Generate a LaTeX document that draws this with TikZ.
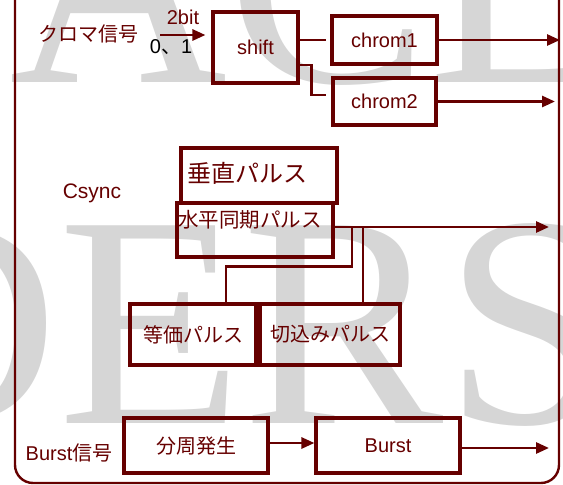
\documentclass[tikz,border=0pt]{standalone}
\usepackage{fontspec}
\setmainfont{Liberation Sans}
\newfontfamily\jp{Noto Sans CJK JP}
\newfontfamily\wm{Liberation Serif}
\usetikzlibrary{arrows.meta,calc}
\definecolor{dr}{RGB}{102,0,0}
\definecolor{wmgray}{RGB}{214,214,214}
\begin{document}
\begin{tikzpicture}[x=1pt,y=-1pt,
 box/.style={draw=dr, line width=3.1pt, inner sep=0pt, text=dr, font=\fontsize{20}{24}\selectfont},
 jbox/.style={box, font=\jp\fontsize{20}{24}\selectfont},
 conn/.style={draw=dr, line width=2.7pt},
 arr/.style={conn, -{Triangle[length=13pt,width=11pt]}},
 lbl/.style={text=dr, inner sep=0pt, font=\fontsize{20}{24}\selectfont},
 jlbl/.style={lbl, font=\jp\fontsize{20}{24}\selectfont},
 wmark/.style={text=wmgray, inner sep=0pt, anchor=base west, font=\wm\fontsize{302}{302}\selectfont}]
\useasboundingbox (0,0) rectangle (563,485);
\begin{scope}
 \clip (0,0) rectangle (563,485);
 \node[wmark] (wm1) at (9,82) {ACL};
 \node[wmark] (wm2) at (-160,423) {DERS};
\end{scope}
% frame
\draw[conn, line width=2.4pt, rounded corners=18pt] (15,-10) -- (15,483) -- (559,483) -- (559,-10);
% chroma part
\node[jlbl] (chroma) at (88,34) {クロマ信号};
\node[lbl] (twobit) at (183,17) {2bit};
\node[lbl, text=black] (zeroone) at (171,47) {0{\jp 、}1};
\node[box, minimum width=85pt, minimum height=71pt] (shift) at (255.5,47.5) {shift};
\node[box, minimum width=105pt, minimum height=48pt] (chrom1) at (384.5,40) {chrom1};
\node[box, minimum width=103pt, minimum height=47pt] (chrom2) at (384.5,101.5) {chrom2};
\coordinate (cin) at (160,35);
\draw[arr] (cin) -- ($(shift.west |- cin)+(-6,0)$);
\draw[conn] (shift.east |- chrom1.west) -- ($(chrom1.west)+(-4,0)$);
\draw[conn] ($(shift.east)+(0,17.5)$) -- ++(12,0) |- ($(chrom2.west)+(-5,-6.5)$);
\coordinate (o1) at (560,40);
\draw[arr] (chrom1.east) -- (o1);
\coordinate (o2) at (555,101.5);
\draw[arr] (chrom2.east) -- (o2);
% csync part
\node[box, minimum width=156pt, minimum height=55pt] (vert) at (259,175.5) {};
\node[jlbl, anchor=west, font=\jp\fontsize{24}{26}\selectfont] (verttxt) at (187,173) {垂直パルス};
\node[box, minimum width=156pt, minimum height=54pt] (horiz) at (255,230) {};
\node[jlbl, anchor=west, font=\jp\fontsize{20.5}{24}\selectfont] (horiztxt) at (178,220) {水平同期パルス};
\node[lbl, font=\fontsize{21}{24}\selectfont] (csync) at (92,193) {Csync};
\coordinate (o3) at (549,227);
\draw[arr] (horiz.east |- o3) -- (o3);
\node[jbox, minimum width=126pt, minimum height=61pt] (eq) at (193,334.5) {等価パルス};
\node[jbox, minimum width=140pt, minimum height=61pt] (cut) at (330,334.5) {切込みパルス};
\coordinate (t1) at (352,227);
\coordinate (t2) at (363,227);
\draw[conn] (t1) |- ($(eq.north)+(33,-36)$) -- ($(eq.north)+(33,0)$);
\draw[conn] (t2) -- (t2 |- cut.north);
% burst part
\node[jbox, minimum width=144pt, minimum height=55pt] (div) at (196,445.5) {分周発生};
\node[box, minimum width=144pt, minimum height=55pt] (burst) at (388,445.5) {Burst};
\draw[arr] ($(div.east)+(0,-2.5)$) -- ($(burst.west)+(0,-2.5)$);
\coordinate (o4) at (549,448);
\draw[arr] (burst.east |- o4) -- (o4);
\node[lbl] (bsig) at (69,453) {Burst{\jp 信号}};
\end{tikzpicture}
\end{document}
